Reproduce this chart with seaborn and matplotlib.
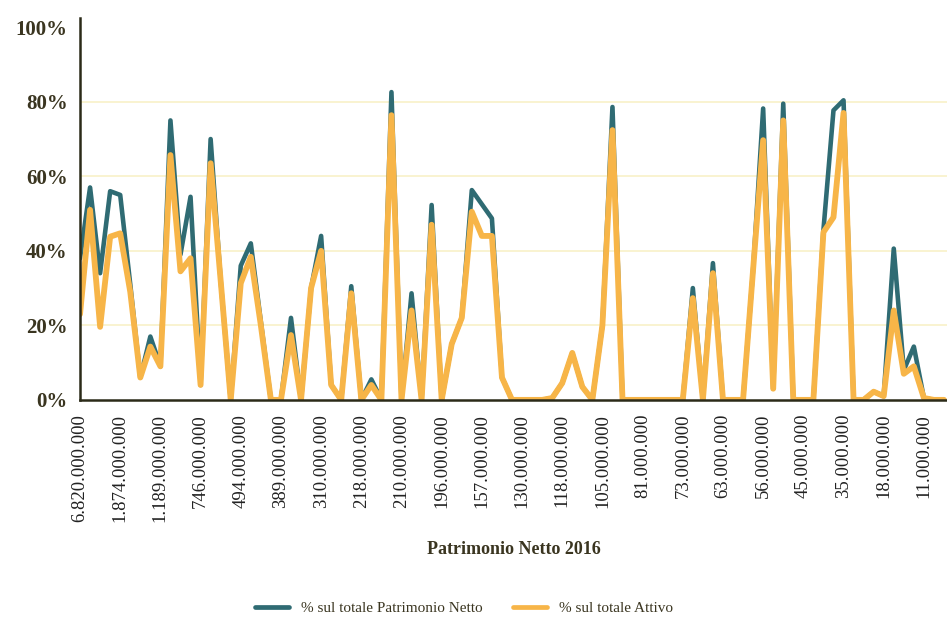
import numpy as np
import pandas as pd
import matplotlib
matplotlib.use('Agg')
import matplotlib.pyplot as plt
from matplotlib.ticker import FixedLocator, MultipleLocator, FuncFormatter
import seaborn as sns

# etichette dell'asse x (una ogni 4 categorie)
etichette_x = ['6.820.000.000', '1.874.000.000', '1.189.000.000', '746.000.000',
               '494.000.000', '389.000.000', '310.000.000', '218.000.000',
               '210.000.000', '196.000.000', '157.000.000', '130.000.000',
               '118.000.000', '105.000.000', '81.000.000', '73.000.000',
               '63.000.000', '56.000.000', '45.000.000', '35.000.000',
               '18.000.000', '11.000.000']
passo_etichette = 4

# % sul totale Patrimonio Netto
patrimonio = [38, 57, 34, 56, 55, 31, 6, 17, 9, 75,
              39, 54.5, 4, 70, 32, 0, 36, 42, 21, 0,
              0, 22, 0, 30, 44, 4, 0, 30.5, 0, 5.5,
              0, 82.6, 0, 28.6, 0, 52.3, 0, 15, 22, 56.3,
              52.5, 48.7, 6, 0, 0, 0, 0, 0.5, 4.5, 12.6,
              3.5, 0, 20, 78.6, 0, 0, 0, 0, 0, 0,
              0, 30, 0, 36.7, 0, 0, 0, 35, 78.2, 3,
              79.5, 0, 0, 0, 45.6, 77.7, 80.4, 0, 0, 2.2,
              1, 40.6, 8, 14.3, 0.5, 0, 0]

# % sul totale Attivo
attivo = [23, 51, 19.6, 43.8, 44.7, 29, 6, 14.3, 9, 65.7,
          34.5, 38, 4, 63.5, 32, 0, 31.3, 38.4, 20, 0,
          0, 17.4, 0, 30, 40, 4, 0, 28.6, 0, 4,
          0, 76.4, 0, 24, 0, 47, 0, 15, 22, 50.5,
          44, 44, 6, 0, 0, 0, 0, 0.5, 4.5, 12.6,
          3.5, 0, 20, 72.4, 0, 0, 0, 0, 0, 0,
          0, 27.3, 0, 34, 0, 0, 0, 35, 69.7, 3,
          75, 0, 0, 0, 45, 49, 77, 0, 0, 2.2,
          1, 24, 7, 9, 0.5, 0, 0]

serie = ['% sul totale Patrimonio Netto', '% sul totale Attivo']
colori = ['#2f6b73', '#f7b548']
spessori = [3.3, 4.2]

n = len(patrimonio)
df = pd.DataFrame({
    'pos': list(range(n)) * 2,
    'valore': patrimonio + attivo,
    'serie': [serie[0]] * n + [serie[1]] * n,
})

sns.set_style('white')
plt.rcParams['font.family'] = ['Liberation Serif', 'DejaVu Serif']

fig = plt.figure(figsize=(9.47, 6.19), dpi=100)
ax = fig.add_axes([0.0845, 0.354, 0.9155, 0.617])

# griglia orizzontale leggera
for g in [20, 40, 60, 80]:
    ax.axhline(g, color='#f8f1c8', lw=1.2, zorder=0)

sns.lineplot(data=df, x='pos', y='valore', hue='serie', palette=colori,
             linewidth=3.4, ax=ax, legend=False)
linee = [l for l in ax.get_lines() if len(l.get_xdata()) == n]
for l, s in zip(linee, spessori):
    l.set_linewidth(s)
    l.set_solid_joinstyle('round')

ax.set_xlim(0, 86.3)
ax.set_ylim(0, 102.5)

ax.set_yticks([0, 20, 40, 60, 80, 100])
ax.yaxis.set_major_formatter(FuncFormatter(lambda v, p: f'{v:.0f}%'))

ax.xaxis.set_major_locator(FixedLocator(range(0, n, passo_etichette)))
ax.set_xticklabels(etichette_x, rotation=90, fontsize=13.5, color='#222222')
ax.xaxis.set_minor_locator(MultipleLocator(passo_etichette / 7))

for lab in ax.get_yticklabels():
    lab.set_fontsize(15)
    lab.set_fontweight('bold')
    lab.set_color('#3a3520')

ax.tick_params(axis='x', which='major', direction='out', length=6, width=1.2,
               color='#2b2a18', pad=4)
ax.tick_params(axis='x', which='minor', direction='out', length=3, width=1,
               color='#2b2a18')
ax.tick_params(axis='y', which='major', direction='out', length=6, width=1.2,
               color='#2b2a18', pad=3)

for lato in ['top', 'right']:
    ax.spines[lato].set_visible(False)
for lato in ['left', 'bottom']:
    ax.spines[lato].set_color('#2b2a18')
    ax.spines[lato].set_linewidth(1.8)

ax.set_ylabel('')
ax.set_xlabel('Patrimonio Netto 2016', fontsize=13, fontweight='bold',
              color='#3a3520', labelpad=14)

# legenda in basso
maniglie = [plt.Line2D([0], [0], color=c, lw=3.4) for c in colori]
fig.legend(maniglie, serie, loc='center', bbox_to_anchor=(0.49, 0.017),
           ncol=2, frameon=False, fontsize=11, handlelength=2.2,
           columnspacing=2.0, labelcolor='#3a3520')

fig.savefig('out.png', dpi=100)
